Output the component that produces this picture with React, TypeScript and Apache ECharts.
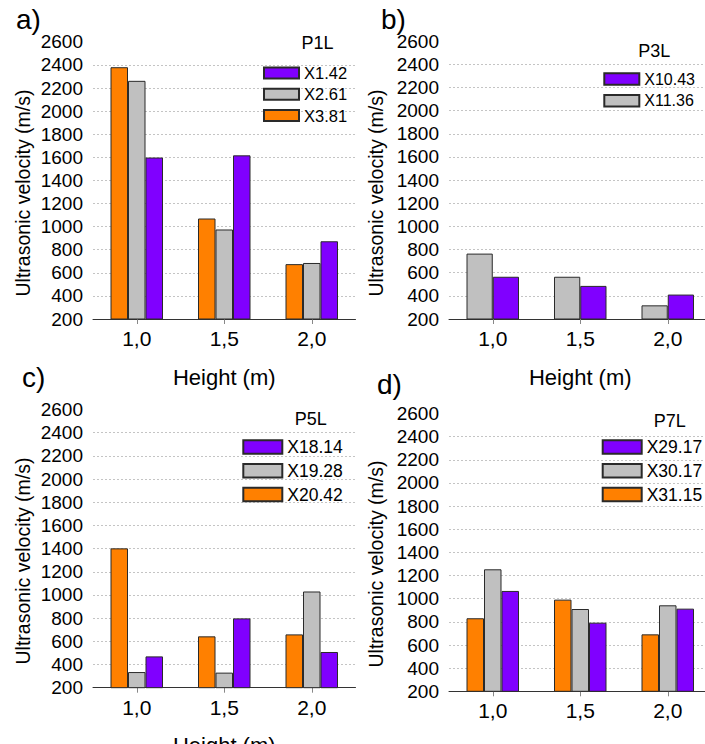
import React, { useEffect, useRef } from "react";
import * as echarts from "echarts";

// ---- Data ----
const categories = ["1,0", "1,5", "2,0"];
const yTicks = { min: 200, max: 2600, interval: 200 };

// Panel a) P1L
const p1L_names = ["X3.81", "X2.61", "X1.42"];
const p1L_X381 = [2380, 1070, 675];
const p1L_X261 = [2262, 975, 685];
const p1L_X142 = [1598, 1617, 873];

// Panel b) P3L
const p3L_names = ["X11.36", "X10.43"];
const p3L_X1136 = [765, 565, 318];
const p3L_X1043 = [565, 486, 411];

// Panel c) P5L
const p5L_names = ["X20.42", "X19.28", "X18.14"];
const p5L_X2042 = [1402, 643, 660];
const p5L_X1928 = [335, 330, 1030];
const p5L_X1814 = [470, 798, 508];

// Panel d) P7L
const p7L_names = ["X31.15", "X30.17", "X29.17"];
const p7L_X3115 = [831, 992, 692];
const p7L_X3017 = [1254, 911, 943];
const p7L_X2917 = [1067, 793, 914];

const ORANGE = "#FF8000";
const GRAY = "#C0C0C0";
const PURPLE = "#8000FF";
const FONT = "'Liberation Sans', Arial, sans-serif";

export default function App() {
  const ref = useRef<HTMLDivElement>(null);

  useEffect(() => {
    document.body.style.margin = "0";
    if (!ref.current) return;
    const chart = echarts.init(ref.current, undefined, { renderer: "svg" });

    const grids = [
      { left: 93, top: 41.8, width: 262.5, height: 277.2, outerBoundsMode: "none", containLabel: false },
      { left: 449, top: 41.2, width: 262.5, height: 277.8, outerBoundsMode: "none", containLabel: false },
      { left: 93, top: 409.5, width: 262.5, height: 278.2, outerBoundsMode: "none", containLabel: false },
      { left: 449, top: 413.5, width: 262.5, height: 277.8, outerBoundsMode: "none", containLabel: false },
    ];

    const xAxes = grids.map((_, i) => ({
      type: "category",
      gridIndex: i,
      data: categories,
      name: "Height (m)",
      nameLocation: "middle",
      nameGap: i === 3 ? 60 : 47,
      nameTextStyle: { fontSize: 22, color: "#000", fontFamily: FONT },
      axisLine: { show: true, lineStyle: { color: "#333", width: 1 } },
      axisTick: { show: true, alignWithLabel: true, length: 5, lineStyle: { color: "#888" } },
      axisLabel: { fontSize: 21, color: "#000", margin: 9, fontFamily: FONT },
      splitLine: { show: false },
    }));

    const yAxes = grids.map((_, i) => ({
      type: "value",
      gridIndex: i,
      min: yTicks.min,
      max: yTicks.max,
      interval: yTicks.interval,
      axisLine: { show: false },
      axisTick: { show: false },
      axisLabel: {
        fontSize: 19,
        color: "#000",
        margin: 10,
        fontFamily: FONT,
        formatter: (v: number) => String(v),
      },
      splitLine: {
        show: true,
        showMinLine: false,
        showMaxLine: false,
        lineStyle: { color: "#c4c4c4", type: [2, 2], width: 1 },
      },
    }));

    const bar = (name: string, data: number[], color: string, idx: number) => ({
      type: "bar",
      name,
      data,
      xAxisIndex: idx,
      yAxisIndex: idx,
      barGap: "0%",
      barCategoryGap: "40%",
      itemStyle: { color, borderColor: "#2a2a2a", borderWidth: 1 },
    });

    const series = [
      bar(p1L_names[0], p1L_X381, ORANGE, 0),
      bar(p1L_names[1], p1L_X261, GRAY, 0),
      bar(p1L_names[2], p1L_X142, PURPLE, 0),
      bar(p3L_names[0], p3L_X1136, GRAY, 1),
      bar(p3L_names[1], p3L_X1043, PURPLE, 1),
      bar(p5L_names[0], p5L_X2042, ORANGE, 2),
      bar(p5L_names[1], p5L_X1928, GRAY, 2),
      bar(p5L_names[2], p5L_X1814, PURPLE, 2),
      bar(p7L_names[0], p7L_X3115, ORANGE, 3),
      bar(p7L_names[1], p7L_X3017, GRAY, 3),
      bar(p7L_names[2], p7L_X2917, PURPLE, 3),
    ];

    const legend = (data: string[], left: number, top: number, w: number, h: number, fs: number, gap: number) => ({
      orient: "vertical",
      left,
      top,
      padding: 0,
      itemWidth: w,
      itemHeight: h,
      itemGap: gap,
      icon: "rect",
      selectedMode: false,
      data,
      textStyle: { fontSize: fs, color: "#000", fontFamily: FONT },
    });

    const legends = [
      legend([...p1L_names].reverse(), 263, 64.5, 35, 11, 16.5, 4.3),
      legend([...p3L_names].reverse(), 603.3, 71, 35, 11.5, 16, 5.7),
      legend([...p5L_names].reverse(), 242.3, 438, 39, 13.5, 17.5, 5.8),
      legend([...p7L_names].reverse(), 601.7, 438, 39, 13.5, 17.5, 5.8),
    ];

    const txt = (text: string, x: number, y: number, fs: number, align: string, rotation = 0) => ({
      type: "text",
      x,
      y,
      rotation,
      silent: true,
      style: { text, fontSize: fs, fill: "#000", fontFamily: FONT, align, verticalAlign: "middle" },
    });

    const graphic = [
      txt("a)", 16, 19, 28, "left"),
      txt("b)", 381, 19, 28, "left"),
      txt("c)", 22, 377.3, 28, "left"),
      txt("d)", 377, 384, 28, "left"),
      txt("P1L", 317.5, 43, 18, "center"),
      txt("P3L", 654.3, 51, 18, "center"),
      txt("P5L", 310.8, 418.5, 18, "center"),
      txt("P7L", 669.7, 421, 18, "center"),
      txt("Ultrasonic velocity (m/s)", 23, 193, 19.5, "center", Math.PI / 2),
      txt("Ultrasonic velocity (m/s)", 376, 193, 19.5, "center", Math.PI / 2),
      txt("Ultrasonic velocity (m/s)", 22.5, 561, 19.5, "center", Math.PI / 2),
      txt("Ultrasonic velocity (m/s)", 376, 564, 19.5, "center", Math.PI / 2),
    ];

    chart.setOption({
      animation: false,
      backgroundColor: "#fff",
      textStyle: { fontFamily: FONT },
      grid: grids,
      xAxis: xAxes,
      yAxis: yAxes,
      legend: legends,
      series,
      graphic,
    } as any);

    return () => chart.dispose();
  }, []);

  return <div ref={ref} style={{ width: 705, height: 744 }} />;
}
